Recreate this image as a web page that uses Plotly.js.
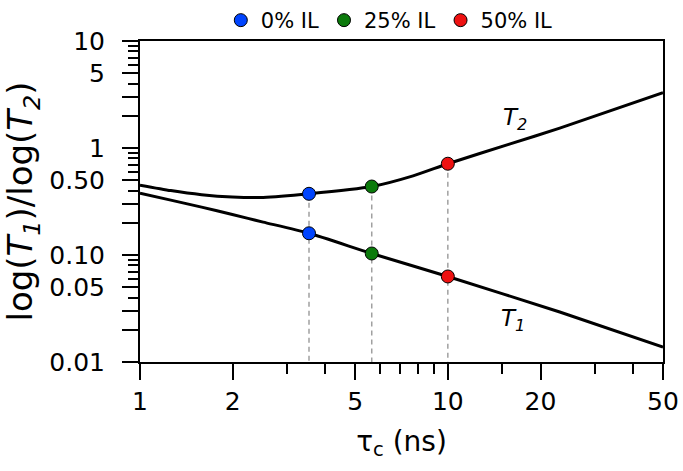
<!DOCTYPE html>
<html>
<head>
<meta charset="utf-8">
<script src="https://cdn.plot.ly/plotly-3.0.1.min.js"></script>
<style>html,body{margin:0;padding:0;background:#fff;}#chart{width:683px;height:471px;}</style>
</head>
<body>
<div id="chart"></div>
<script>
// Curve samples (tau_c in ns, ratio values)
const tauT1 = [1, 1.259, 1.585, 1.995, 2.512, 3.54, 5.66, 10, 23.1, 50];
const ratioT1 = [0.379, 0.326, 0.280, 0.239, 0.203, 0.1596, 0.1033, 0.0630, 0.0293, 0.01377];
const tauT2 = [1, 1.259, 1.585, 1.995, 2.512, 3.54, 5.66, 7.71, 10, 15.85, 23.1, 50];
const ratioT2 = [0.450, 0.400, 0.366, 0.348, 0.345, 0.3733, 0.4365, 0.5495, 0.713, 1.086, 1.535, 3.29];

// Marked points (ionic liquid content)
const ilLabels = ['0% IL', '25% IL', '50% IL'];
const ilColors = ['#0044ff', '#0b7a0b', '#ee1111'];
const ilTau = [3.54, 5.66, 10];
const ilT1 = [0.1596, 0.1033, 0.0630];
const ilT2 = [0.3733, 0.4365, 0.713];

// Axis ticks
const xTickVals = [1, 2, 5, 10, 20, 50];
const xTickText = ['1', '2', '5', '10', '20', '50'];
const xMinorVals = [3, 4, 6, 7, 8, 9, 15, 30, 40];
const yTickVals = [0.01, 0.02, 0.03, 0.05, 0.1, 0.2, 0.3, 0.5, 1, 2, 3, 5, 10];
const yTickText = ['0.01', '', '', '0.05', '0.10', '', '', '0.50', '1', '', '', '5', '10'];
const yMinorVals = [0.04, 0.06, 0.07, 0.08, 0.09, 0.4, 0.6, 0.7, 0.8, 0.9, 4, 6, 7, 8, 9];
const yMin = 0.01;

const FONT = 'DejaVu Sans, sans-serif';
const traces = [];

// dashed guides from T2 point down to the x axis
ilTau.forEach((t, i) => {
  traces.push({
    x: [t, t], y: [ilT2[i], yMin], mode: 'lines', showlegend: false, hoverinfo: 'skip',
    line: {color: '#a0a0a0', width: 1.5, dash: '5px,4px'}
  });
});

traces.push({x: tauT2, y: ratioT2, mode: 'lines', showlegend: false,
  line: {color: '#000', width: 3, shape: 'spline', smoothing: 0.6}});
traces.push({x: tauT1, y: ratioT1, mode: 'lines', showlegend: false,
  line: {color: '#000', width: 3, shape: 'spline', smoothing: 0.6}});

ilTau.forEach((t, i) => {
  traces.push({
    x: [t, t], y: [ilT2[i], ilT1[i]], mode: 'markers', name: ilLabels[i],
    marker: {color: ilColors[i], size: 13, line: {color: '#000', width: 1}}
  });
});

const layout = {
  width: 683, height: 471,
  margin: {l: 140, r: 20, t: 39, b: 109, pad: 0},
  paper_bgcolor: '#fff', plot_bgcolor: '#fff',
  font: {family: FONT, color: '#000', size: 22},
  showlegend: true,
  legend: {orientation: 'h', x: 0.57, xref: 'container', xanchor: 'center', y: 1.0, yref: 'container', yanchor: 'top',
    font: {family: FONT, size: 21, color: '#000'}, bgcolor: 'rgba(0,0,0,0)', itemwidth: 30, tracegroupgap: 0},
  xaxis: {
    type: 'log', range: [0, Math.log10(50)], autorange: false,
    tickmode: 'array', tickvals: xTickVals, ticktext: xTickText,
    ticks: 'outside', ticklen: 16, tickwidth: 2, tickcolor: '#000',
    showline: true, linewidth: 2, linecolor: '#000', mirror: true,
    showgrid: false, zeroline: false,
    tickfont: {family: FONT, size: 25, color: '#000'},
    minor: {tickmode: 'array', tickvals: xMinorVals, ticks: 'outside', ticklen: 10, tickwidth: 2, tickcolor: '#000', showgrid: false},
    title: {text: 'τ<sub>c</sub> (ns)', font: {family: FONT, size: 28, color: '#000'}, standoff: 16},
    automargin: false
  },
  yaxis: {
    type: 'log', range: [-2, 1], autorange: false,
    tickmode: 'array', tickvals: yTickVals, ticktext: yTickText,
    ticks: 'outside', ticklen: 16, tickwidth: 2, tickcolor: '#000',
    showline: true, linewidth: 2, linecolor: '#000', mirror: true,
    showgrid: false, zeroline: false,
    tickfont: {family: FONT, size: 25, color: '#000'},
    ticklabelstandoff: 12,
    minor: {tickmode: 'array', tickvals: yMinorVals, ticks: 'outside', ticklen: 10, tickwidth: 2, tickcolor: '#000', showgrid: false},
    title: {text: 'log(<i>T<sub>1</sub></i>)/log(<i>T<sub>2</sub></i>)', font: {family: FONT, size: 34, color: '#000'}, standoff: 6},
    automargin: false
  },
  annotations: [
    {xref: 'x', yref: 'y', x: Math.log10(16.5), y: Math.log10(1.85), text: '<i>T<sub>2</sub></i>', showarrow: false,
      font: {family: FONT, size: 23, color: '#000'}},
    {xref: 'x', yref: 'y', x: Math.log10(16.3), y: Math.log10(0.0245), text: '<i>T<sub>1</sub></i>', showarrow: false,
      font: {family: FONT, size: 23, color: '#000'}}
  ]
};

Plotly.newPlot('chart', traces, layout, {displayModeBar: false, staticPlot: true});
</script>
</body>
</html>
